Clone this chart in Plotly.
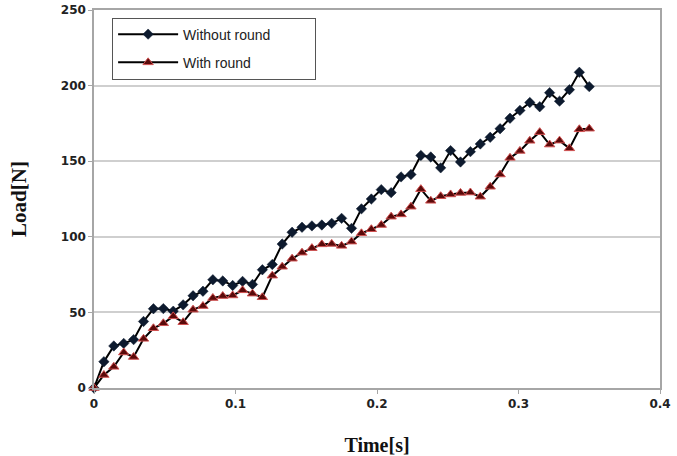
import plotly.graph_objects as go

time_s = [round(i * 0.007, 3) for i in range(51)]

without_round = [0, 17.4, 27.8, 29.5, 32, 44, 52.4, 52.5, 50.8, 55,
                 61, 64, 71.6, 70.8, 67.8, 70.5, 68.5, 78.2, 81.7, 95.2,
                 103, 106.3, 107.2, 107.8, 108.9, 112.2, 105.6, 118.5, 125, 131.2,
                 129.2, 139.6, 141.2, 153.8, 152.8, 145.6, 157, 149.5, 156.3, 161.4,
                 165.8, 171.5, 178.4, 183.6, 188.8, 186, 195.3, 189.7, 197.3, 208.8,
                 199.3]

with_round = [0, 8.6, 14, 23.5, 20.5, 32.5, 39.5, 42.8, 47.4, 43.5,
              51.8, 54.2, 59.5, 60.8, 61.2, 64.6, 62.4, 60, 74.3, 80.2,
              85.5, 89.5, 92.5, 95, 95.3, 94, 96.8, 102.3, 105, 107.8,
              113.3, 114.8, 119.9, 131.5, 123.8, 126.8, 128, 129, 129.3, 126.5,
              133.1, 141.2, 152.2, 156.8, 163.5, 169.2, 161, 163.6, 158.5, 171.1,
              171.5]

series_names = ["Without round", "With round"]
x_ticks = [0, 0.1, 0.2, 0.3, 0.4]
x_tick_labels = ["0", "0.1", "0.2", "0.3", "0.4"]
y_ticks = [0, 50, 100, 150, 200, 250]

pad = "\u00a0" * 10

fig = go.Figure()
fig.add_trace(go.Scatter(
    x=time_s, y=without_round, name=series_names[0] + pad, mode="lines+markers",
    line=dict(color="black", width=2),
    marker=dict(symbol="diamond", size=8, color="#0d1a2e", line=dict(color="#0d1a2e", width=0.5)),
    cliponaxis=False, legendgroup="a"))
fig.add_trace(go.Scatter(
    x=time_s, y=with_round, name=series_names[1], mode="lines+markers",
    line=dict(color="black", width=2),
    marker=dict(symbol="triangle-up", size=9, color="#5a0a0a", line=dict(color="#d05050", width=1)),
    cliponaxis=False, legendgroup="b"))

fig.update_layout(
    width=677, height=456,
    margin=dict(l=94, r=17, t=10, b=68),
    paper_bgcolor="white", plot_bgcolor="white",
    showlegend=True,
    legend=dict(x=0.032, y=0.98, xanchor="left", yanchor="top",
                bgcolor="white", bordercolor="#555555", borderwidth=1,
                font=dict(family="Liberation Sans", size=14, color="#222222"),
                tracegroupgap=7, itemwidth=60),
    xaxis=dict(range=[0, 0.4], tickvals=x_ticks, ticktext=x_tick_labels,
               showgrid=False, zeroline=False, automargin=False,
               showline=True, linecolor="#a6a6a6", linewidth=1.5, mirror=True,
               ticks="outside", ticklen=4, tickcolor="#a6a6a6",
               tickfont=dict(family="DejaVu Sans", size=12, color="#222222", weight="bold"),
               title=dict(text="<b>Time[s]</b>", standoff=28,
                          font=dict(family="Liberation Serif", size=20, color="#111111"))),
    yaxis=dict(range=[0, 250], tickvals=y_ticks,
               showgrid=True, gridcolor="#cfcfcf", gridwidth=1.5, zeroline=False, automargin=False,
               showline=True, linecolor="#a6a6a6", linewidth=1.5, mirror=True,
               ticks="outside", ticklen=4, tickcolor="#a6a6a6",
               tickfont=dict(family="DejaVu Sans", size=12, color="#222222", weight="bold"),
               title=dict(text="<b>Load[N]</b>", standoff=28,
                          font=dict(family="Liberation Serif", size=21, color="#111111"))),
)

fig.write_html("out.html")
